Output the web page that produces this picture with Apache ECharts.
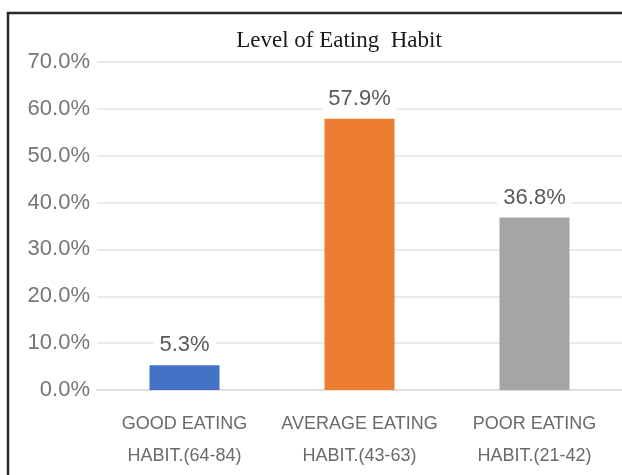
<!DOCTYPE html>
<html><head><meta charset="utf-8">
<script src="https://cdn.jsdelivr.net/npm/echarts@6/dist/echarts.min.js"></script>
<style>html,body{margin:0;padding:0;background:#fff}#c{width:622px;height:475px}</style>
</head><body><div id="c"></div>
<script>
const categories = ['GOOD EATING\nHABIT.(64-84)', 'AVERAGE EATING\nHABIT.(43-63)', 'POOR EATING\nHABIT.(21-42)'];
const values = [5.3, 57.9, 36.8];
const colors = ['#4472C4', '#ED7D31', '#A5A5A5'];
const yTicks = [0, 10, 20, 30, 40, 50, 60, 70];

const chart = echarts.init(document.getElementById('c'));
chart.setOption({
  animation: false,
  title: {
    text: 'Level of Eating  Habit', left: 334, top: 24, textAlign: 'center',
    textStyle: { fontFamily: 'Liberation Serif', fontSize: 23, fontWeight: 'normal', color: '#1a1a1a' }
  },
  graphic: [{
    type: 'polyline', silent: true, z: 100,
    shape: { points: [[8, 475], [8, 13], [622, 13]] },
    style: { stroke: '#2b2b2b', lineWidth: 2.5, fill: null }
  }],
  grid: { left: 97, right: -5, top: 62, bottom: 85, containLabel: false },
  xAxis: {
    type: 'category', data: categories,
    axisLine: { show: true, lineStyle: { color: '#dcdcdc', width: 1.5 } },
    axisTick: { show: false },
    axisLabel: { color: '#6a6a6a', fontFamily: 'Liberation Sans', fontSize: 18, lineHeight: 32, margin: 18, interval: 0 }
  },
  yAxis: {
    type: 'value', min: 0, max: 70, interval: 10,
    axisLine: { show: false }, axisTick: { show: false },
    splitLine: { lineStyle: { color: '#e3e3e3', width: 1.5 } },
    axisLabel: {
      color: '#767676', fontFamily: 'Liberation Sans', fontSize: 22, margin: 7,
      formatter: v => yTicks.includes(v) ? v.toFixed(1) + '%' : ''
    }
  },
  series: [{
    type: 'bar', barWidth: '40%',
    data: values.map((v, i) => ({ value: v, itemStyle: { color: colors[i] } })),
    label: {
      show: true, position: 'top', distance: 7,
      formatter: p => p.value.toFixed(1) + '%',
      color: '#595959', fontFamily: 'Liberation Sans', fontSize: 22,
      backgroundColor: '#fff', padding: [2, 6]
    }
  }]
});
</script></body></html>
